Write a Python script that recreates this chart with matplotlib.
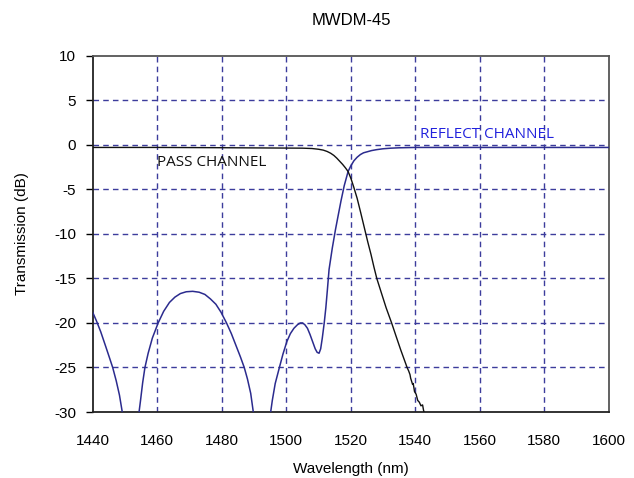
import matplotlib
matplotlib.use("Agg")
import matplotlib.pyplot as plt
import numpy as np

plt.rcParams["axes.unicode_minus"] = False

title = "MWDM-45"
xlabel = "Wavelength (nm)"
ylabel = "Transmission (dB)"
xticks = [1440, 1460, 1480, 1500, 1520, 1540, 1560, 1580, 1600]
yticks = [10, 5, 0, -5, -10, -15, -20, -25, -30]

pass_wl = [1440, 1460, 1480, 1495, 1505, 1508, 1510, 1511.5, 1512.7, 1513.8, 1514.8, 1515.7,
           1516.6, 1517.5, 1518.4, 1519.2, 1520.1, 1521, 1522, 1523.1, 1524.3, 1525.3, 1526.3,
           1527.2, 1528.1, 1529.5, 1531, 1532.7, 1534, 1535.5, 1536.6, 1537.5, 1538.0, 1538.4,
           1538.6, 1539.2, 1539.4, 1539.8, 1540.3, 1540.8, 1541.3, 1541.8, 1542.3, 1542.6, 1543.2]
pass_db = [-0.3, -0.3, -0.33, -0.36, -0.38, -0.42, -0.5, -0.6, -0.75, -0.95, -1.2, -1.5,
           -1.85, -2.2, -2.6, -3.0, -3.8, -4.8, -6.0, -7.6, -9.4, -10.9, -12.3,
           -13.7, -15.0, -16.6, -18.3, -20.0, -21.4, -23.0, -24.1, -25.0, -25.4, -25.8,
           -26.2, -26.9, -26.8, -27.7, -28.0, -28.7, -28.9, -29.3, -29.2, -29.8, -30.6]

refl_wl = [1440, 1441.2, 1442.5, 1444, 1445.2, 1446.2, 1447.3, 1448.3, 1449.4, None,
           1454.2, 1454.8, 1455.5, 1456.2, 1457.2, 1458.5, 1460.3, 1462, 1463.8, 1465.5, 1467.2,
           1469, 1471, 1473, 1474.8, 1476.5, 1478.2, 1479.8, 1481.5, 1483, 1484.4, 1485.8,
           1487, 1488, 1489, 1490, None,
           1495.0, 1495.7, 1496.6, 1497.9, 1499, 1500.2, 1501.3, 1502.4, 1503.5, 1504.4, 1505.1,
           1505.8, 1506.6, 1507.4, 1508.2, 1509, 1509.6, 1510.2, 1510.7, 1511.2, 1511.8,
           1512.3, 1512.8, 1513.3, 1514.3, 1515.3, 1516.2, 1517, 1518, 1519.2, 1520, 1521, 1522,
           1523, 1524, 1525, 1526.5, 1528, 1530, 1532.5, 1535, 1540, 1560, 1580, 1600]
refl_db = [-18.8, -19.8, -21.0, -22.6, -23.9, -25.0, -26.5, -28.1, -30.5, None,
           -30.5, -28.8, -26.7, -25.0, -23.4, -21.7, -20.0, -18.7, -17.7, -17.1, -16.7,
           -16.5, -16.45, -16.55, -16.8, -17.3, -17.9, -18.8, -20.0, -21.2, -22.5, -23.8,
           -25.0, -26.3, -27.9, -30.5, None,
           -30.5, -28.7, -26.8, -25.0, -23.5, -22.1, -21.2, -20.6, -20.2, -20.0, -20.0,
           -20.2, -20.6, -21.3, -22.1, -22.9, -23.3, -23.4, -22.9, -21.7, -20.0,
           -18.3, -16.2, -14.0, -11.6, -9.5, -7.8, -6.3, -4.6, -3.0, -2.4, -1.8, -1.4,
           -1.1, -0.9, -0.8, -0.65, -0.55, -0.45, -0.38, -0.34, -0.3, -0.3, -0.3, -0.3]

fig = plt.figure(figsize=(6.34, 4.78), dpi=100)
ax = fig.add_axes([0.1462, 0.138, 0.8138, 0.7455])

grid_color = "#3c3c9c"
for xv in xticks[1:-1]:
    ax.axvline(xv, color=grid_color, lw=1.0, ls=(0, (4, 3)), zorder=1)
for yv in yticks[1:-1]:
    ax.axhline(yv, color=grid_color, lw=1.0, ls=(0, (4, 3)), zorder=1)

rw = np.array([np.nan if v is None else v for v in refl_wl], dtype=float)
rd = np.array([np.nan if v is None else v for v in refl_db], dtype=float)
ax.plot(rw, rd, color="#2b2b8e", lw=1.1, zorder=3)
ax.plot(pass_wl, pass_db, color="#111111", lw=1.0, zorder=3)

ax.set_xlim(1440, 1600)
ax.set_ylim(-30, 10)
ax.set_xticks(xticks)
ax.set_yticks(yticks)
ax.tick_params(axis="y", direction="out", length=5, width=1, labelsize=11, pad=7)
ax.tick_params(axis="x", length=0, labelsize=11, pad=16)
for lab in ax.get_xticklabels() + ax.get_yticklabels():
    lab.set_family("Liberation Sans")

for s in ["left", "bottom"]:
    ax.spines[s].set_color("#222222")
    ax.spines[s].set_linewidth(1.3)
for s in ["top", "right"]:
    ax.spines[s].set_color("#555555")
    ax.spines[s].set_linewidth(1.3)

ax.set_xlabel(xlabel, family="Liberation Sans", fontsize=11, va="center")
ax.xaxis.set_label_coords(0.5, -0.16)
ax.set_ylabel(ylabel, family="Liberation Sans", fontsize=11, va="center")
ax.yaxis.set_label_coords(-0.137, 0.5)
fig.text(0.5538, 0.958, title, family="Liberation Sans", fontsize=12, ha="center", va="center")

ax.text(1459.8, -2.0, "PASS CHANNEL", family="Open Sans", fontsize=11, color="#111111",
        va="center", ha="left", zorder=4)
ax.text(1541.5, 1.2, "REFLECT CHANNEL", family="Open Sans", fontsize=11, color="#2222dd",
        va="center", ha="left", zorder=4)

fig.savefig("out.png", dpi=100)
